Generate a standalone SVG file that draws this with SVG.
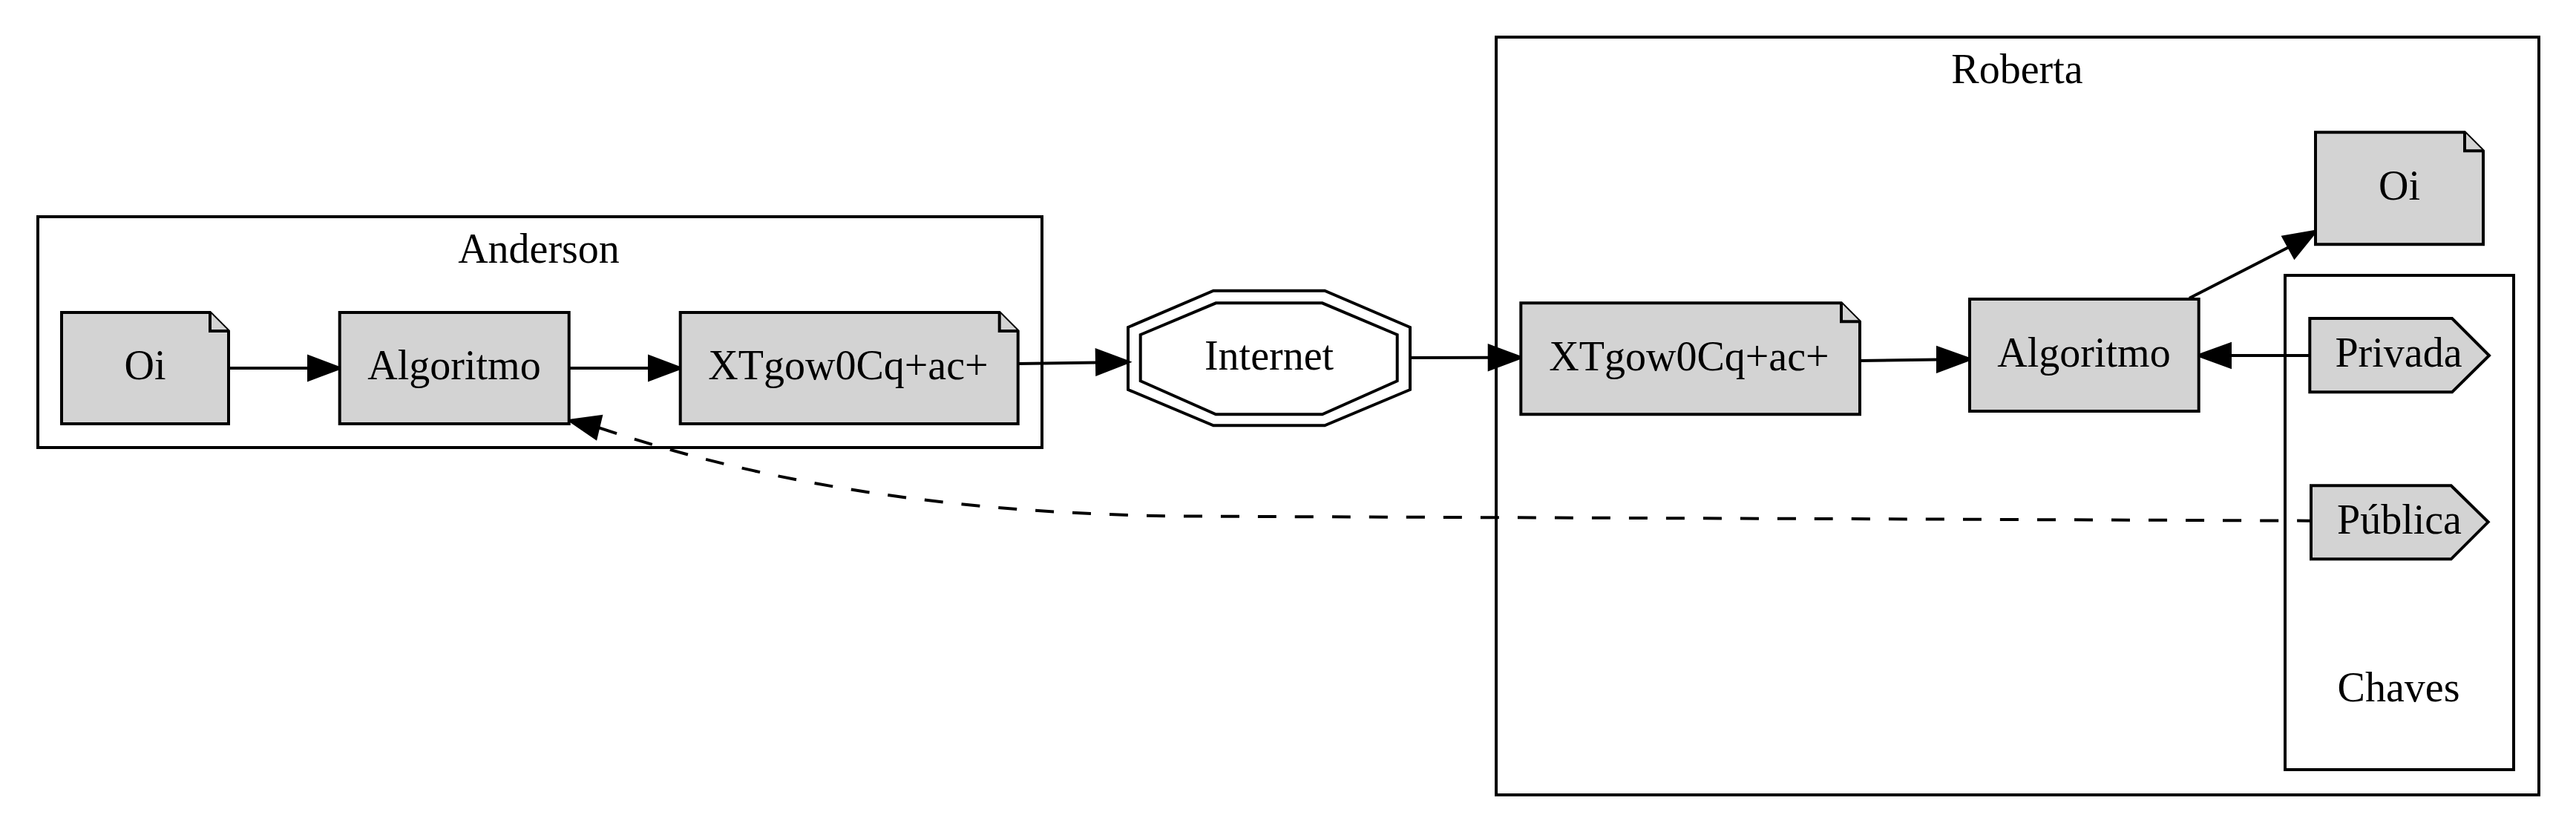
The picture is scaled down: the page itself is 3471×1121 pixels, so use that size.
<svg xmlns="http://www.w3.org/2000/svg" width="3471" height="1121" viewBox="0 0 3471 1121">
<style>
text{font-family:"Liberation Serif","Times New Roman",serif;font-size:56px;fill:#000;text-anchor:middle}
.cl{fill:none;stroke:#000;stroke-width:4}
.nd{fill:#d3d3d3;stroke:#000;stroke-width:4;stroke-linejoin:miter}
.oct{fill:none;stroke:#000;stroke-width:4}
.e{fill:none;stroke:#000;stroke-width:4}
.d{fill:none;stroke:#000;stroke-width:4;stroke-dasharray:25,25;stroke-dashoffset:6}
.ah{fill:#000;stroke:#000;stroke-width:4;stroke-linejoin:miter}
</style>
<rect width="3471" height="1121" fill="#fff"/>
<g id="cluster_anderson">
<rect class="cl" x="51" y="292" width="1353" height="311"/>
<text x="726" y="354">Anderson</text>
</g>
<g id="cluster_roberta">
<rect class="cl" x="2016" y="50" width="1405" height="1021"/>
<text x="2718" y="112">Roberta</text>
</g>
<g id="cluster_chaves">
<rect class="cl" x="3079" y="371" width="308" height="666"/>
<text x="3232" y="945">Chaves</text>
</g>
<g id="connectors">
<path class="e" d="M308,496 L416,496"/>
<polygon class="ah" points="457.7,496 416,480.5 416,511.5"/>
<path class="e" d="M766.7,496 L875,496"/>
<polygon class="ah" points="916.7,496 875,480.5 875,511.5"/>
<path class="e" d="M1371.7,490 L1478,488.4"/>
<polygon class="ah" points="1520,487.7 1477.7,472 1478.2,504"/>
<path class="e" d="M1900,482 L2007,481.8"/>
<polygon class="ah" points="2049,481.7 2006.7,466 2006.7,497.5"/>
<path class="e" d="M2506,486 L2611,484.5"/>
<polygon class="ah" points="2654,484 2611,468.5 2611,500"/>
<path class="e" d="M3112,479 L3005,479"/>
<polygon class="ah" points="2962.7,479 3005,463.5 3005,494.5"/>
<path class="e" d="M2950,401.7 L3084,333"/>
<polygon class="ah" points="3120,311.7 3076.7,319.3 3091.7,346.7"/>
<path class="d" d="M3114,701.7 C2500,699 1800,696.5 1600,695.5 C1300,693 1040,655 806.5,576"/>
<polygon class="ah" points="768.3,566.7 809.8,561.2 802.8,590.4"/>
</g>
<g id="node_oi_a">
<path class="nd" d="M83,421 L283,421 L308,446 L308,571 L83,571 Z"/>
<path class="nd" d="M283,421 L283,446 L308,446"/>
<text x="195.5" y="511">Oi</text>
</g>
<g id="node_algoritmo_a">
<rect class="nd" x="457.7" y="421" width="309" height="150"/>
<text x="612" y="511">Algoritmo</text>
</g>
<g id="node_xtgow_a">
<path class="nd" d="M916.7,421 L1346.7,421 L1371.7,446 L1371.7,571 L916.7,571 Z"/>
<path class="nd" d="M1346.7,421 L1346.7,446 L1371.7,446"/>
<text x="1143" y="511">XTgow0Cq+ac+</text>
</g>
<g id="node_internet">
<polygon class="oct" points="1635,391.7 1785,391.7 1900,441 1900,525 1785,573.3 1635,573.3 1520,525 1520,441"/>
<polygon class="oct" points="1638.3,408.3 1781.7,408.3 1882.7,451 1882.7,513.3 1781.7,558.3 1638.3,558.3 1536.7,513.3 1536.7,451"/>
<text x="1710" y="498">Internet</text>
</g>
<g id="node_xtgow_b">
<path class="nd" d="M2049.3,408.3 L2481,408.3 L2506,433.3 L2506,558.3 L2049.3,558.3 Z"/>
<path class="nd" d="M2481,408.3 L2481,433.3 L2506,433.3"/>
<text x="2276" y="499">XTgow0Cq+ac+</text>
</g>
<g id="node_algoritmo_b">
<rect class="nd" x="2654" y="403" width="308.7" height="151"/>
<text x="2808" y="494">Algoritmo</text>
</g>
<g id="node_oi_b">
<path class="nd" d="M3120,178.3 L3321,178.3 L3346,203.3 L3346,329.3 L3120,329.3 Z"/>
<path class="nd" d="M3321,178.3 L3321,203.3 L3346,203.3"/>
<text x="3233" y="269">Oi</text>
</g>
<g id="node_privada">
<path class="nd" d="M3112.3,429 L3304,429 L3354,479 L3304,528.3 L3112.3,528.3 Z"/>
<text x="3232" y="494">Privada</text>
</g>
<g id="node_publica">
<path class="nd" d="M3114,654.3 L3302.7,654.3 L3352.7,703.3 L3302.7,753.3 L3114,753.3 Z"/>
<text x="3233" y="719">Pública</text>
</g>
</svg>
